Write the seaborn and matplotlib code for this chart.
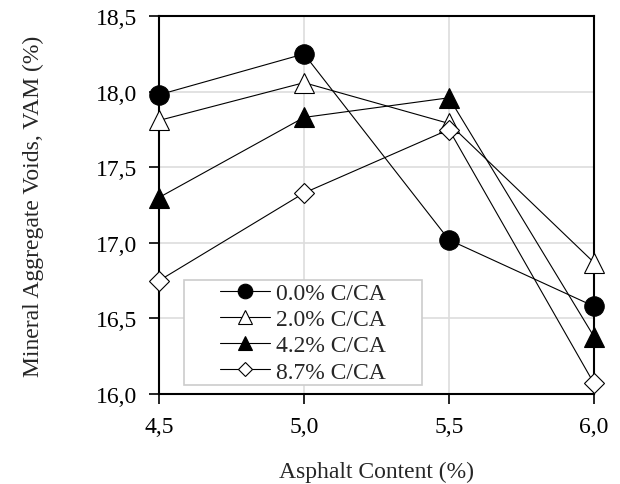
import matplotlib
matplotlib.use("Agg")
import matplotlib.pyplot as plt
import seaborn as sns
import pandas as pd
from matplotlib.ticker import FuncFormatter
from matplotlib.patches import Rectangle

asphalt = [4.5, 5.0, 5.5, 6.0]
vam_00 = [17.98, 18.25, 17.02, 16.58]
vam_20 = [17.81, 18.06, 17.79, 16.87]
vam_42 = [17.30, 17.83, 17.96, 16.38]
vam_87 = [16.75, 17.33, 17.75, 16.07]
labels = ["0.0% C/CA", "2.0% C/CA", "4.2% C/CA", "8.7% C/CA"]

sns.set_style("white")
plt.rcParams['font.family'] = ['Liberation Serif', 'DejaVu Serif']

fig = plt.figure(figsize=(6.2, 4.85), dpi=100)
ax = fig.add_axes([0.2565, 0.1856, 0.7015, 0.779])

styles = [
    dict(marker='o', markerfacecolor='black', markersize=14),
    dict(marker='^', markerfacecolor='white', markersize=14),
    dict(marker='^', markerfacecolor='black', markersize=14),
    dict(marker='D', markerfacecolor='white', markersize=9.8),
]
series = [vam_00, vam_20, vam_42, vam_87]
for vals, lab, st in zip(series, labels, styles):
    df = pd.DataFrame({"x": asphalt, "y": vals})
    sns.lineplot(data=df, x="x", y="y", ax=ax, color='black', linewidth=0.8,
                 markeredgecolor='black', markeredgewidth=0.8, label=lab,
                 clip_on=False, zorder=3, **st)

ax.set_xlim(4.5, 6.0)
ax.set_ylim(16.0, 18.5)
ax.set_xticks([4.5, 5.0, 5.5, 6.0])
ax.set_yticks([16.0, 16.5, 17.0, 17.5, 18.0, 18.5])
fmt = FuncFormatter(lambda v, p: f"{v:.1f}".replace('.', ','))
ax.xaxis.set_major_formatter(fmt)
ax.yaxis.set_major_formatter(fmt)
ax.grid(True, color='#dddddd', linewidth=1.2, zorder=0)
ax.set_axisbelow(True)
for s in ax.spines.values():
    s.set_color('black')
    s.set_linewidth(1.5)
ax.tick_params(axis='both', direction='out', length=7, width=1.2, colors='black',
               labelsize=17, bottom=True, left=True, pad=9)
ax.set_xlabel("Asphalt Content (%)", fontsize=17)
ax.set_ylabel("Mineral Aggregate Voids, VAM (%)", fontsize=17)
ax.xaxis.set_label_coords(0.5, -0.177)
ax.yaxis.set_label_coords(-0.265, 0.5)

# legend frame
ax.add_patch(Rectangle((0.0575, 0.0238), 0.547, 0.278, transform=ax.transAxes,
                       facecolor='white', edgecolor='#cccccc', linewidth=1.2,
                       zorder=2.5))
leg = ax.legend(loc='center', bbox_to_anchor=(0.331, 0.1627), fontsize=17,
                frameon=False, handlelength=2.15, handletextpad=0.25,
                labelspacing=0.2, borderpad=0.0, markerscale=0.75)

fig.savefig("out.png", dpi=100)
